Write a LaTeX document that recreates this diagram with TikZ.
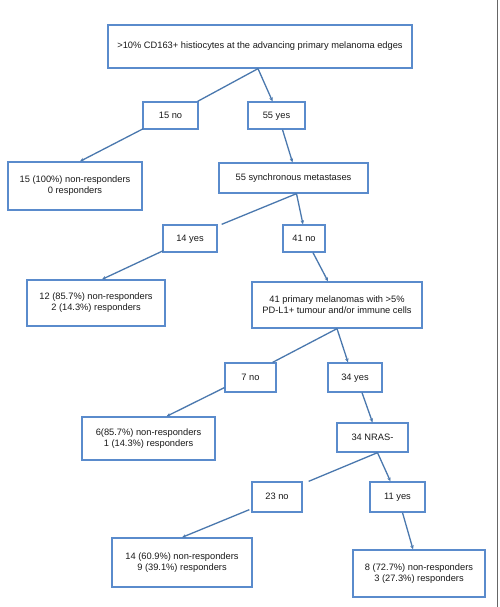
\documentclass[tikz,border=0pt]{standalone}
\usepackage{fontspec}
\setmainfont{Liberation Sans}
\usetikzlibrary{arrows.meta,calc}
\definecolor{boxblue}{HTML}{5A8BCC}
\definecolor{lineblue}{HTML}{4A78AE}
\definecolor{txt}{HTML}{1A1A1A}
\begin{document}
\begin{tikzpicture}[x=1pt,y=-1pt,
  box/.style={draw=boxblue,line width=1.3pt,fill=white,inner sep=0pt,align=center,text=txt,font=\fontsize{9.3}{11}\selectfont},
  one/.style={box,text height=7pt,text depth=2pt},
  conn/.style={draw=lineblue,line width=1.3pt},
  arr/.style={conn,-{Stealth[length=4pt,width=3.5pt]}}]
\useasboundingbox (0,0) rectangle (500,607);
\fill[white] (0,0) rectangle (500,607);
\draw[gray!80!black,line width=1.5pt] (497.5,0) -- (497.5,607);
% nodes
\node[one,minimum width=304,minimum height=43] (top) at (260,46.5) {>10\% CD163+ histiocytes at the advancing primary melanoma edges};
\node[one,minimum width=55,minimum height=27] (no15) at (170.5,115.5) {15 no};
\node[one,minimum width=57,minimum height=27] (yes55) at (276.5,115.5) {55 yes};
\node[box,minimum width=134,minimum height=48] (res1) at (75,186) {15 (100\%) non-responders\\0 responders};
\node[one,minimum width=149,minimum height=30] (syn) at (293.5,178) {55 synchronous metastases};
\node[one,minimum width=54,minimum height=27] (yes14) at (190,238.5) {14 yes};
\node[one,minimum width=42,minimum height=27] (no41) at (304,238.5) {41 no};
\node[box,minimum width=138,minimum height=46] (res2) at (96,303) {12 (85.7\%) non-responders\\2 (14.3\%) responders};
\node[box,minimum width=170,minimum height=46] (prim) at (337,305) {41 primary melanomas with >5\%\\PD-L1+ tumour and/or immune cells};
\node[one,minimum width=51,minimum height=29] (no7) at (250.5,377.5) {7 no};
\node[one,minimum width=54,minimum height=29] (yes34) at (355,377.5) {34 yes};
\node[box,minimum width=133,minimum height=43] (res3) at (148.5,438.5) {6(85.7\%) non-responders\\1 (14.3\%) responders};
\node[one,minimum width=71,minimum height=29] (nras) at (372.5,437.5) {34 NRAS-};
\node[one,minimum width=50,minimum height=30] (no23) at (277,497) {23 no};
\node[one,minimum width=55,minimum height=30] (yes11) at (397.5,497) {11 yes};
\node[box,minimum width=140,minimum height=49] (res4) at (182,562.5) {14 (60.9\%) non-responders\\9 (39.1\%) responders};
\node[box,minimum width=132,minimum height=47] (res5) at (419,573.5) {8 (72.7\%) non-responders\\3 (27.3\%) responders};
% connectors
\coordinate (j1) at ([xshift=-2pt]top.south);
\draw[conn] (j1) -- ([xshift=-1pt]no15.north east);
\draw[arr] (j1) -- ([xshift=-4pt]yes55.north);
\draw[arr] ([xshift=1pt,yshift=1pt]no15.south west) -- ([xshift=5pt]res1.north);
\draw[arr] ([xshift=6pt]yes55.south) -- ([xshift=-1pt]syn.north);
\coordinate (j2) at ([xshift=3pt]syn.south);
\draw[conn] (j2) -- ([xshift=4pt]yes14.north east);
\draw[arr] (j2) -- ([xshift=-1pt]no41.north);
\draw[arr] ([xshift=1pt,yshift=2pt]yes14.south west) -- ([xshift=6pt]res2.north);
\draw[arr] ([xshift=9pt]no41.south) -- ([xshift=-9pt]prim.north);
\coordinate (j3) at (prim.south);
\draw[conn] (j3) -- ([xshift=-4pt]no7.north east);
\draw[arr] (j3) -- ([xshift=-7pt]yes34.north);
\draw[arr] ([yshift=5pt]no7.south west) -- ([xshift=18pt]res3.north);
\draw[arr] ([xshift=7pt]yes34.south) -- (nras.north);
\coordinate (j4) at ([xshift=5pt]nras.south);
\draw[conn] (j4) -- ([xshift=6pt]no23.north east);
\draw[arr] (j4) -- ([xshift=-7pt]yes11.north);
\draw[arr] ([xshift=-2pt,yshift=3pt]no23.south west) -- (res4.north);
\draw[arr] ([xshift=5pt]yes11.south) -- ([xshift=-6pt]res5.north);
\end{tikzpicture}
\end{document}
